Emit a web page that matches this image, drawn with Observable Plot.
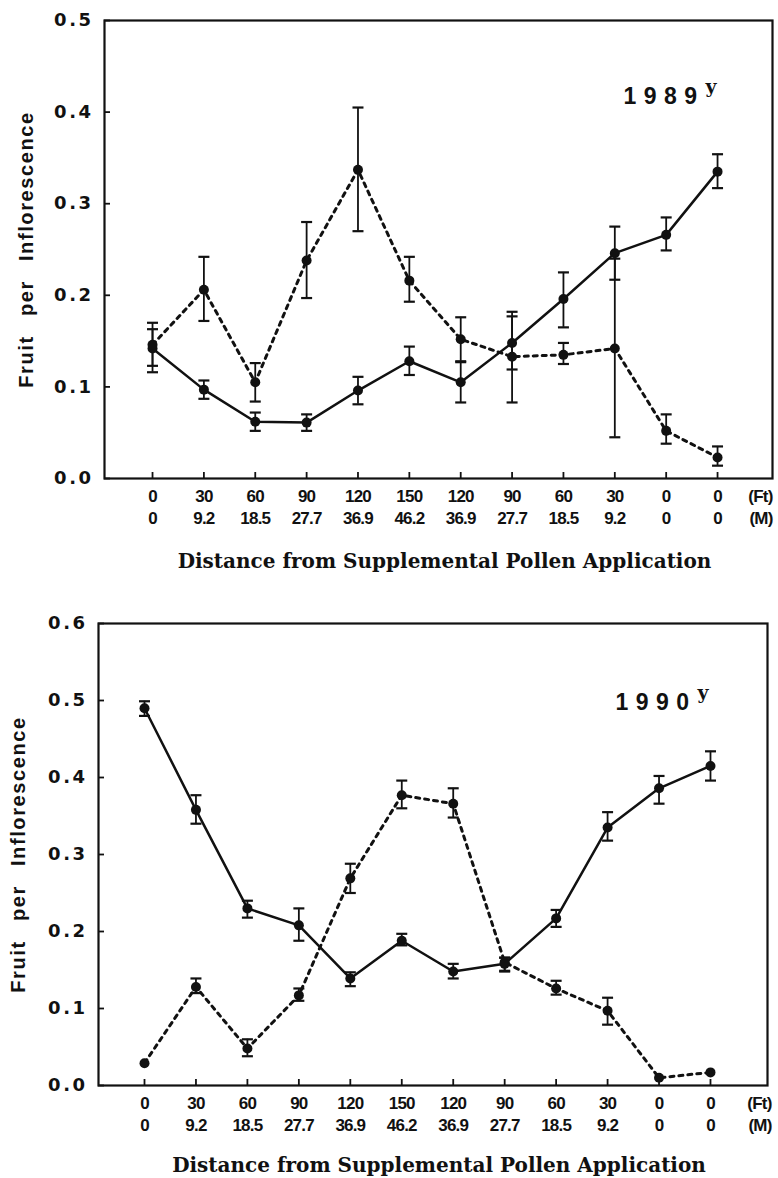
<!DOCTYPE html>
<html><head><meta charset="utf-8">
<script src="https://cdn.jsdelivr.net/npm/d3@7"></script>
<script src="https://cdn.jsdelivr.net/npm/@observablehq/plot@0.6"></script>
<style>
body{margin:0;background:#fff;}
#wrap{position:relative;width:778px;height:1178px;background:#fff;}
#wrap svg{position:absolute;left:0;background:#fff;overflow:visible;}
</style></head><body><div id="wrap"></div>
<script>
// Categories (x tick labels)
const ftLabels = ["0","30","60","90","120","150","120","90","60","30","0","0"];
const mLabels  = ["0","9.2","18.5","27.7","36.9","46.2","36.9","27.7","18.5","9.2","0","0"];
const idx = d3.range(12);

// 1989 – solid series
const y89sMean = [0.142,0.097,0.062,0.061,0.096,0.128,0.105,0.148,0.196,0.246,0.266,0.335];
const y89sLo   = [0.116,0.087,0.052,0.052,0.081,0.113,0.083,0.119,0.165,0.217,0.249,0.317];
const y89sHi   = [0.170,0.107,0.072,0.070,0.111,0.144,0.127,0.177,0.225,0.275,0.285,0.354];
// 1989 – dashed series
const y89dMean = [0.146,0.206,0.105,0.238,0.337,0.216,0.152,0.133,0.135,0.142,0.052,0.023];
const y89dLo   = [0.123,0.172,0.084,0.197,0.270,0.193,0.128,0.083,0.125,0.045,0.038,0.014];
const y89dHi   = [0.163,0.242,0.126,0.280,0.405,0.242,0.176,0.182,0.148,0.240,0.070,0.035];

// 1990 – solid series
const y90sMean = [0.490,0.358,0.230,0.208,0.139,0.188,0.148,0.158,0.217,0.335,0.386,0.415];
const y90sLo   = [0.480,0.340,0.218,0.188,0.129,0.182,0.139,0.148,0.206,0.318,0.366,0.396];
const y90sHi   = [0.499,0.377,0.240,0.230,0.147,0.197,0.158,0.166,0.228,0.355,0.402,0.434];
// 1990 – dashed series
const y90dMean = [0.029,0.128,0.048,0.117,0.269,0.377,0.366,0.160,0.126,0.097,0.010,0.017];
const y90dLo   = [null,0.120,0.038,0.110,0.250,0.360,0.348,0.149,0.118,0.079,null,null];
const y90dHi   = [null,0.139,0.060,0.126,0.288,0.396,0.386,0.166,0.136,0.114,null,null];

const yLabel = "Fruit per Inflorescence";
const xLabel = "Distance from Supplemental Pollen Application";

function rows(mean, lo, hi) {
  return idx.map(i => ({i, v: mean[i], lo: lo[i], hi: hi[i]}));
}

const cap = {draw(ctx, size) { const r = Math.sqrt(size / Math.PI); ctx.moveTo(-r, 0); ctx.lineTo(r, 0); }};
const ink = "#111";

function panel(o) {
  const solid = rows(...o.solid), dashed = rows(...o.dashed);
  const errs = [...solid, ...dashed].filter(d => d.lo != null);
  const yTicks = d3.range(0, o.yMax + 1e-9, 0.1);
  const tickFont = {fontSize: 17, fontWeight: "bold", fontFamily: "Liberation Sans"};
  const svg = Plot.plot({
    width: 778, height: o.height,
    marginTop: o.mt, marginBottom: o.mb, marginLeft: o.ml, marginRight: o.mr,
    x: {domain: o.xDomain, label: null},
    y: {domain: [0, o.yMax], label: null},
    marks: [
      Plot.axisY({ticks: yTicks, tickSize: 6, dx: 6, tickFormat: () => "", label: null, strokeWidth: 1.8, stroke: ink}),
      Plot.axisY({ticks: yTicks, tickSize: 0, tickPadding: 11, tickFormat: d3.format(".1f"), label: null,
                  fontSize: 18, fontWeight: "bold", fontFamily: "DejaVu Sans", fill: ink}),
      Plot.axisX({ticks: idx, tickSize: 6, dy: -6, tickFormat: () => "", label: null, strokeWidth: 1.8, stroke: ink}),
      Plot.axisX({ticks: idx, tickSize: 0, tickPadding: 11, tickFormat: i => ftLabels[i], label: null, fill: ink, ...tickFont}),
      Plot.axisX({ticks: idx, tickSize: 0, tickPadding: 33, tickFormat: i => mLabels[i], label: null, fill: ink, ...tickFont}),
      Plot.text(["(Ft)"], {text: d => d, frameAnchor: "bottom-right", textAnchor: "end", lineAnchor: "top", dx: o.ftDx, dy: 11, fill: ink, ...tickFont}),
      Plot.text(["(M)"], {text: d => d, frameAnchor: "bottom-right", textAnchor: "end", lineAnchor: "top", dx: o.ftDx, dy: 33, fill: ink, ...tickFont}),
      Plot.frame({stroke: ink, strokeWidth: 2.2}),
      Plot.line(solid, {x: "i", y: "v", stroke: ink, strokeWidth: 2.5}),
      Plot.line(dashed, {x: "i", y: "v", stroke: ink, strokeWidth: 3, strokeDasharray: "4,5"}),
      Plot.ruleX(errs, {x: "i", y1: "lo", y2: "hi", stroke: ink, strokeWidth: 1.8}),
      Plot.dot(errs, {x: "i", y: "lo", symbol: cap, r: 5.5, stroke: ink, strokeWidth: 2.2, fill: "none"}),
      Plot.dot(errs, {x: "i", y: "hi", symbol: cap, r: 5.5, stroke: ink, strokeWidth: 2.2, fill: "none"}),
      Plot.dot([...solid, ...dashed], {x: "i", y: "v", r: 5, fill: ink}),
      Plot.text([o.year], {text: d => d, frameAnchor: "top-right", textAnchor: "start", lineAnchor: "bottom",
                  dx: o.titleDx, dy: o.titleDy, fontSize: 23, fontWeight: "bold", fontFamily: "Liberation Sans", fill: ink}),
      Plot.text(["y"], {text: d => d, frameAnchor: "top-right", textAnchor: "start", lineAnchor: "bottom",
                  dx: o.titleDx + 82, dy: o.titleDy - 11, fontSize: 19, fontWeight: "bold", fontFamily: "DejaVu Serif", fill: ink}),
      Plot.text([yLabel], {text: d => d, frameAnchor: "left", textAnchor: "middle", rotate: -90, lineAnchor: "middle", dx: o.ylDx, dy: o.ylDy,
                  fontSize: 20, fontWeight: "bold", fontFamily: "Liberation Sans", fill: ink}),
      Plot.text([xLabel], {text: d => d, frameAnchor: "bottom", textAnchor: "middle", lineAnchor: "bottom", dx: o.xlDx, dy: o.xlDy,
                  fontSize: 20, fontWeight: "bold", fontFamily: "DejaVu Serif", fill: ink})
    ]
  });
  const s = d3.select(svg);
  s.selectAll('g[aria-label="y-axis tick label"] text').attr("letter-spacing", "2.5px");
  s.selectAll('g[aria-label="x-axis tick label"] text').attr("letter-spacing", "-0.8px");
  s.selectAll("text").each(function() {
    const t = this.textContent;
    if (t === o.year) d3.select(this).attr("letter-spacing", "7.5px");
    if (t === yLabel) d3.select(this).attr("letter-spacing", "1.6px").attr("word-spacing", "12px");
    if (t === "(Ft)" || t === "(M)") d3.select(this).attr("letter-spacing", "-0.8px");
  });
  svg.style.top = o.top + "px";
  return svg;
}

const wrap = document.getElementById("wrap");
wrap.appendChild(panel({
  top: 0, height: 590, mt: 20, mb: 112, ml: 104, mr: 6,
  xDomain: [-0.935, 12.07], yMax: 0.5,
  solid: [y89sMean, y89sLo, y89sHi], dashed: [y89dMean, y89dLo, y89dHi],
  year: "1989", titleDx: -149, titleDy: 83, ftDx: 0, ylDx: -78, ylDy: 0, xlDx: 6, xlDy: 89
}));
wrap.appendChild(panel({
  top: 590, height: 588, mt: 33, mb: 93, ml: 98, mr: 11,
  xDomain: [-0.894, 12.108], yMax: 0.6,
  solid: [y90sMean, y90sLo, y90sHi], dashed: [y90dMean, y90dLo, y90dHi],
  year: "1990", titleDx: -152, titleDy: 86, ftDx: 4, ylDx: -80, ylDy: 0, xlDx: 6, xlDy: 86
}));
</script></body></html>
